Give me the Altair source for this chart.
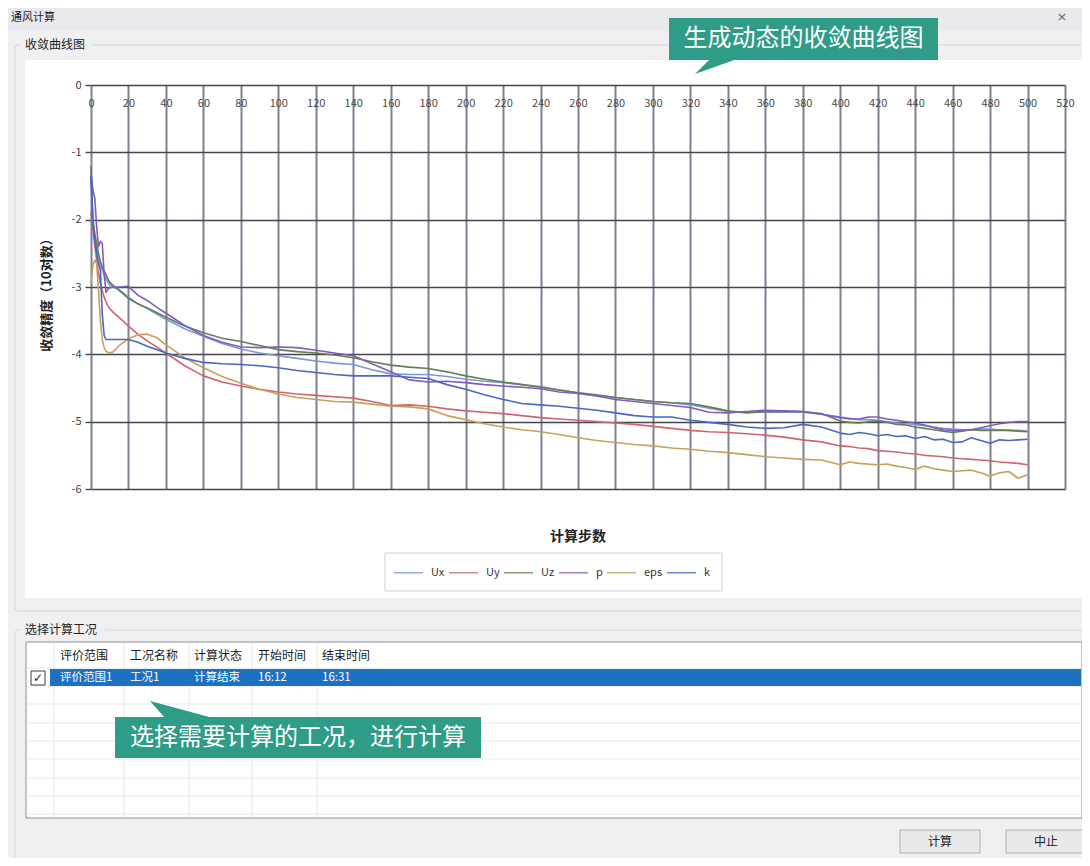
import altair as alt
import pandas as pd

FONT = "Noto Sans CJK SC"

# ---------------- data ----------------
STEPS = [0, 1, 2, 3, 4, 5, 6, 7, 8, 9, 10,
         12, 15, 20, 25, 30, 35, 40,
         50, 60, 70, 80, 90, 100, 110, 120, 130, 140,
         150, 160, 170, 180, 190, 200, 210, 220, 230, 240,
         250, 260, 270, 280, 290, 300, 310, 320, 330, 340,
         350, 360, 370, 380, 390, 400,
         405, 410, 415, 420, 425, 430, 435, 440, 445, 450,
         455, 460, 465, 470, 475, 480, 485, 490, 495, 500]

UX = [-1.40, -2.00, -2.25, -2.45, -2.60, -2.68, -2.75, -2.82, -2.88, -2.93, -2.97,
      -3.00, -3.04, -3.15, -3.25, -3.32, -3.40, -3.48,
      -3.62, -3.73, -3.84, -3.92, -3.98, -4.02, -4.06, -4.10, -4.13, -4.15,
      -4.23, -4.29, -4.30, -4.30, -4.33, -4.37, -4.40, -4.42, -4.45, -4.48,
      -4.53, -4.57, -4.60, -4.64, -4.67, -4.70, -4.72, -4.75, -4.80, -4.85,
      -4.86, -4.86, -4.86, -4.86, -4.89, -4.93,
      -4.95, -4.97, -4.97, -4.98, -5.00, -5.02, -5.03, -5.04, -5.06, -5.08,
      -5.10, -5.11, -5.12, -5.12, -5.11, -5.11, -5.12, -5.13, -5.13, -5.14]

UY = [-1.90, -2.15, -2.38, -2.60, -2.79, -2.95, -3.05, -3.15, -3.22, -3.28, -3.32,
      -3.38, -3.45, -3.58, -3.70, -3.80, -3.89, -3.98,
      -4.17, -4.32, -4.41, -4.47, -4.52, -4.56, -4.59, -4.61, -4.63, -4.65,
      -4.70, -4.76, -4.75, -4.77, -4.81, -4.84, -4.86, -4.88, -4.91, -4.94,
      -4.96, -4.98, -5.00, -5.02, -5.04, -5.07, -5.10, -5.13, -5.15, -5.16,
      -5.18, -5.20, -5.23, -5.27, -5.30, -5.36,
      -5.37, -5.39, -5.40, -5.43, -5.44, -5.45, -5.47, -5.48, -5.50, -5.51,
      -5.52, -5.54, -5.55, -5.56, -5.57, -5.58, -5.60, -5.61, -5.62, -5.64]

UZ = [-1.20, -2.00, -2.20, -2.35, -2.50, -2.62, -2.70, -2.76, -2.82, -2.88, -2.93,
      -2.98, -3.05, -3.17, -3.25, -3.31, -3.38, -3.45,
      -3.58, -3.68, -3.76, -3.81, -3.87, -3.93, -3.96, -3.98, -4.01, -4.05,
      -4.11, -4.16, -4.19, -4.21, -4.26, -4.32, -4.37, -4.41, -4.45, -4.49,
      -4.53, -4.57, -4.61, -4.64, -4.67, -4.70, -4.72, -4.73, -4.78, -4.84,
      -4.87, -4.85, -4.85, -4.85, -4.88, -4.99,
      -5.01, -5.02, -5.00, -4.99, -5.01, -5.04, -5.05, -5.08, -5.10, -5.12,
      -5.14, -5.16, -5.14, -5.12, -5.13, -5.13, -5.13, -5.13, -5.14, -5.15]

P = [-1.33, -1.55, -1.68, -2.10, -2.40, -2.32, -2.35, -2.80, -3.08, -3.03, -3.01,
     -3.00, -3.00, -2.99, -3.12, -3.20, -3.30, -3.39,
     -3.57, -3.72, -3.82, -3.89, -3.90, -3.89, -3.90, -3.94, -3.98, -4.02,
     -4.14, -4.26, -4.38, -4.41, -4.40, -4.42, -4.45, -4.47, -4.49, -4.51,
     -4.56, -4.58, -4.62, -4.67, -4.70, -4.73, -4.76, -4.79, -4.86, -4.87,
     -4.85, -4.83, -4.84, -4.85, -4.89, -4.94,
     -4.96, -4.96, -4.93, -4.93, -4.96, -4.98, -5.00, -5.02, -5.05, -5.09,
     -5.12, -5.13, -5.13, -5.12, -5.09, -5.06, -5.03, -5.01, -5.00, -5.00]

EPS = [-2.95, -2.68, -2.60, -2.65, -3.05, -3.50, -3.78, -3.90, -3.95, -3.97, -3.98,
       -3.96, -3.87, -3.77, -3.71, -3.70, -3.75, -3.86,
       -4.05, -4.20, -4.33, -4.43, -4.52, -4.59, -4.64, -4.67, -4.70, -4.71,
       -4.74, -4.77, -4.78, -4.81, -4.91, -4.97, -5.03, -5.08, -5.12, -5.15,
       -5.19, -5.24, -5.28, -5.31, -5.34, -5.36, -5.39, -5.41, -5.44, -5.46,
       -5.49, -5.52, -5.54, -5.56, -5.57, -5.64,
       -5.60, -5.62, -5.63, -5.64, -5.63, -5.66, -5.68, -5.71, -5.66, -5.70,
       -5.72, -5.74, -5.73, -5.72, -5.76, -5.81, -5.76, -5.74, -5.84, -5.79]

K = [-1.35, -2.05, -2.30, -2.50, -2.65, -2.75, -3.40, -3.72, -3.78, -3.78, -3.78,
     -3.78, -3.78, -3.78, -3.82, -3.88, -3.93, -3.98,
     -4.06, -4.12, -4.14, -4.15, -4.17, -4.20, -4.24, -4.27, -4.30, -4.32,
     -4.32, -4.32, -4.34, -4.36, -4.45, -4.52, -4.60, -4.67, -4.73, -4.75,
     -4.77, -4.80, -4.83, -4.87, -4.91, -4.93, -4.93, -4.98, -5.01, -5.04,
     -5.08, -5.10, -5.09, -5.04, -5.08, -5.17,
     -5.19, -5.16, -5.18, -5.21, -5.19, -5.22, -5.21, -5.25, -5.22, -5.27,
     -5.26, -5.31, -5.30, -5.24, -5.28, -5.32, -5.27, -5.28, -5.27, -5.26]

SERIES = ["Ux", "Uy", "Uz", "p", "eps", "k"]
COLORS = ["#7a97da", "#d0646e", "#647f52", "#8459c0", "#c9a05a", "#4668c6"]
X_TICKS = list(range(0, 521, 20))
Y_TICKS = [0, -1, -2, -3, -4, -5, -6]

WINDOW_TITLE = "通风计算"
PANEL_TITLE = "收敛曲线图"
Y_TITLE = "收敛精度（10对数）"
X_TITLE = "计算步数"
TABLE_GROUP = "选择计算工况"
TABLE_HEADERS = ["评价范围", "工况名称", "计算状态", "开始时间", "结束时间"]
TABLE_ROW = ["评价范围1", "工况1", "计算结束", "16:12", "16:31"]
NOTE_TOP = "生成动态的收敛曲线图"
NOTE_BOTTOM = "选择需要计算的工况，进行计算"
BUTTONS = ["计算", "中止"]
CLOSE = "×"

rows = []
for name, vals in zip(SERIES, [UX, UY, UZ, P, EPS, K]):
    for s, v in zip(STEPS, vals):
        rows.append({"step": s, "value": v, "series": name})
df = pd.DataFrame(rows)

# ---------------- layout helpers (screen pixel -> plot coords) ----------------
OX, OY = 91, 85
one = pd.DataFrame({"k": [0]})
TEAL = "#2e9c87"
GRAY = "#f0f0f0"


def rect(x1, y1, x2, y2, **kw):
    return alt.Chart(one).mark_rect(**kw).encode(
        x=alt.value(x1 - OX), x2=alt.value(x2 - OX),
        y=alt.value(y1 - OY), y2=alt.value(y2 - OY))


def hrule(x1, x2, y, color, w=1):
    return alt.Chart(one).mark_rule(color=color, strokeWidth=w).encode(
        x=alt.value(x1 - OX), x2=alt.value(x2 - OX), y=alt.value(y - OY))


def vrule(x, y1, y2, color, w=1):
    return alt.Chart(one).mark_rule(color=color, strokeWidth=w).encode(
        x=alt.value(x - OX), y=alt.value(y1 - OY), y2=alt.value(y2 - OY))


def label(x, y, s, size=12, color="#222222", align="left", weight="normal", angle=0, font=FONT):
    return alt.Chart(one).mark_text(
        fontSize=size, color=color, align=align, baseline="middle",
        fontWeight=weight, angle=angle, font=font).encode(
        x=alt.value(x - OX), y=alt.value(y - OY), text=alt.value(s))


def wedge(cx, cy, path, color):
    return alt.Chart(one).mark_point(
        shape=path, size=4, filled=True, fill=color, opacity=1, strokeWidth=0).encode(
        x=alt.value(cx - OX), y=alt.value(cy - OY))


layers = []
# window chrome
layers.append(rect(0, 0, 1100, 31, fill="#e9e9ee"))
layers.append(rect(0, 31, 1100, 60, fill=GRAY))
layers.append(rect(0, 60, 25, 598, fill=GRAY))
layers.append(rect(1082, 60, 1100, 598, fill=GRAY))
layers.append(rect(0, 598, 1100, 880, fill=GRAY))
layers.append(label(11, 17.5, WINDOW_TITLE, size=11))
layers.append(label(1062, 17, CLOSE, size=13, color="#666666", align="center", font="DejaVu Sans"))
# group box 1
layers.append(rect(15, 45, 1110, 611, fillOpacity=0, stroke="#d3d7de", strokeWidth=1, cornerRadius=3))
layers.append(rect(21, 37, 93, 53, fill=GRAY))
layers.append(label(25, 45, PANEL_TITLE, size=12))
# legend frame
layers.append(rect(385, 553, 722, 591, fill="white", stroke="#d2d2d2", strokeWidth=1))

# axis titles
layers.append(label(47, 292, Y_TITLE, size=13, weight="bold", align="center", angle=270))
layers.append(label(578, 537, X_TITLE, size=14, weight="bold", align="center"))

# ---------------- main line chart ----------------
lines = alt.Chart(df).mark_line(strokeWidth=1.6, strokeJoin="round").encode(
    x=alt.X("step:Q",
            scale=alt.Scale(domain=[0, 520], nice=False, zero=False),
            axis=alt.Axis(orient="top", values=X_TICKS, grid=True, gridColor="#7d8190",
                          gridWidth=2, ticks=False, tickSize=0, domain=False,
                          labelPadding=-18, labelBaseline="middle", labelAlign="center",
                          labelAngle=0, labelFontSize=11, labelColor="#4a4a4a",
                          labelOverlap=False, labelFlush=False, title=None)),
    y=alt.Y("value:Q",
            scale=alt.Scale(domain=[-6, 0], nice=False, zero=False),
            axis=alt.Axis(values=Y_TICKS, grid=True, gridColor="#45464f", gridWidth=1.4,
                          ticks=True, tickSize=6, tickColor="#45464f", tickWidth=1.4,
                          domain=False, labelPadding=4, labelFontSize=11,
                          labelColor="#404040", labelExpr="'' + datum.value",
                          labelOverlap=False, labelFlush=False, title=None)),
    color=alt.Color("series:N",
                    scale=alt.Scale(domain=SERIES, range=COLORS),
                    legend=alt.Legend(orient="none", legendX=302, legendY=472,
                                      direction="horizontal", title=None,
                                      symbolType="stroke", symbolSize=841,
                                      symbolStrokeWidth=1.6, symbolOpacity=0.75,
                                      labelFontSize=11, labelColor="#333333",
                                      labelOffset=7, columnPadding=0, padding=0)),
)
layers.append(lines)

# ---------------- lower panel: case table ----------------
layers.append(rect(15, 630, 1110, 861, fillOpacity=0, stroke="#d3d7de", strokeWidth=1, cornerRadius=3))
layers.append(rect(21, 622, 105, 638, fill=GRAY))
layers.append(label(25, 630, TABLE_GROUP, size=12))
layers.append(rect(26, 642, 1082, 818, fill="white", stroke="#8a8f99", strokeWidth=1))
for yy in [668, 686, 704, 723, 741, 759, 778, 796, 814]:
    layers.append(hrule(27, 1081, yy, "#e8e8e8"))
for xx in [54, 124, 189, 252, 317]:
    layers.append(vrule(xx, 643, 817, "#e6e6e6"))
layers.append(rect(50, 669, 1081, 686, fill="#1e71c1"))
layers.append(rect(31, 671, 45, 685, fill="white", stroke="#3c3c3c", strokeWidth=1))
layers.append(label(38, 678, "✓", size=12, color="#222222", align="center", font="DejaVu Sans"))
COL_X = [60, 130, 194, 258, 322]
for cx, h, v in zip(COL_X, TABLE_HEADERS, TABLE_ROW):
    layers.append(label(cx, 656, h, size=12, color="#1a1a1a"))
    layers.append(label(cx, 678, v, size=11.5, color="white"))

# buttons
for (bx1, bx2), name in zip([(900, 980), (1006, 1086)], BUTTONS):
    layers.append(rect(bx1, 830, bx2, 853, fill="#e9e9e9", stroke="#adadad", strokeWidth=1))
    layers.append(label((bx1 + bx2) / 2, 841.5, name, size=12, align="center"))

# ---------------- callouts ----------------
layers.append(rect(669, 18, 938, 60, fill=TEAL))
layers.append(wedge(710, 60, "M-15,14 L0,-1 L27,-1 Z", TEAL))
layers.append(label(803.5, 39, NOTE_TOP, size=24, color="white", align="center"))
layers.append(rect(115, 717, 481, 758, fill=TEAL))
layers.append(wedge(150, 717, "M0,-16 L15,1 L63,1 Z", TEAL))
layers.append(label(298, 737.5, NOTE_BOTTOM, size=24, color="white", align="center"))

chart = alt.layer(*layers).properties(
    width=974, height=404,
    padding={"left": 83, "top": 77, "right": 17, "bottom": 369},
    autosize=alt.AutoSizeParams(type="none"),
    background="white",
).configure(font=FONT).configure_view(strokeWidth=0)

chart.save("out.html", embed_options={"renderer": "svg", "actions": False})
